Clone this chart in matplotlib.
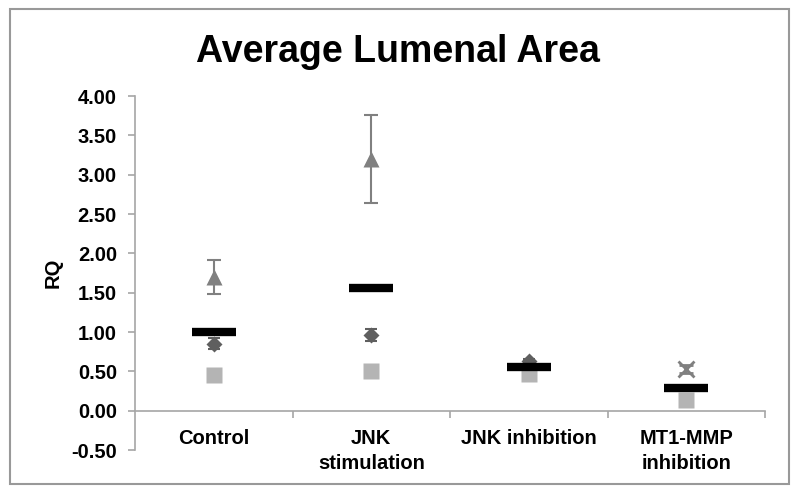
import matplotlib.pyplot as plt
import numpy as np
from matplotlib.patches import Rectangle

categories = ['Control', 'JNK\nstimulation', 'JNK inhibition', 'MT1-MMP\ninhibition']
means = [1.00, 1.56, 0.55, 0.29]
diamond = [0.85, 0.96, 0.63, np.nan]
diamond_err = [0.07, 0.08, 0.03, np.nan]
square = [0.45, 0.50, 0.46, 0.14]
triangle = [1.70, 3.20, np.nan, np.nan]
triangle_err = [0.22, 0.56, np.nan, np.nan]
cross = [np.nan, np.nan, np.nan, 0.53]
cross_err = [np.nan, np.nan, np.nan, 0.05]
yticks = [-0.5, 0, 0.5, 1.0, 1.5, 2.0, 2.5, 3.0, 3.5, 4.0]

plt.rcParams['font.family'] = 'Liberation Sans'
plt.rcParams['font.weight'] = 'bold'

axis_gray = '#a6a6a6'

fig = plt.figure(figsize=(8, 4.96), dpi=100)
ax = fig.add_axes([135 / 800, 1 - 450 / 496, 630 / 800, 354 / 496])
xs = np.arange(1, len(categories) + 1)

ax.errorbar(xs, triangle, yerr=triangle_err, fmt='^', color='#808080',
            ms=12, mec='none', ecolor='#808080', elinewidth=1.5,
            capsize=5, capthick=1.5, zorder=3)
ax.plot(xs, square, 's', color='#b4b4b4', ms=11, mec='none', zorder=3)
ax.errorbar(xs, diamond, yerr=diamond_err, fmt='D', color='#5f5f5f',
            ms=8, mec='none', ecolor='#5f5f5f', elinewidth=1.5,
            capsize=4, capthick=1.5, zorder=3)
ax.errorbar(xs, cross, yerr=cross_err, fmt='x', color='#808080',
            ms=11, mew=2, ecolor='#808080', elinewidth=1.5,
            capsize=5, capthick=1.5, zorder=3)
ax.plot(xs, means, '_', color='black', ms=32, mew=6, zorder=4)

ax.set_xlim(0.5, len(categories) + 0.5)
ax.set_ylim(-0.5, 4.0)
ax.set_yticks(yticks)
ax.set_yticklabels(['%.2f' % v for v in yticks])

ax.spines['top'].set_visible(False)
ax.spines['right'].set_visible(False)
ax.spines['bottom'].set_position(('data', 0))
for s in ['left', 'bottom']:
    ax.spines[s].set_color(axis_gray)
    ax.spines[s].set_linewidth(1.2)

ax.set_xticks(xs + 0.5)
ax.set_xticklabels([])
ax.set_xticks(xs, minor=True)
ax.set_xticklabels(categories, minor=True, fontsize=14.5, fontweight='bold',
                   linespacing=1.4, va='top')
ax.tick_params(axis='x', which='major', direction='out', length=5,
               color=axis_gray, width=1.2)
ax.tick_params(axis='x', which='minor', length=0, pad=13)
ax.tick_params(axis='y', direction='out', length=5, color=axis_gray,
               width=1.2, labelsize=14.5, pad=8)

ax.set_ylabel('RQ', fontsize=14.5, fontweight='bold', labelpad=6)
fig.text(398 / 800, 1 - 52 / 496, 'Average Lumenal Area', ha='center',
         va='center', fontsize=27, fontweight='bold')

fig.patches.append(Rectangle((10 / 800, 1 - 484 / 496), 779 / 800, 475 / 496,
                             transform=fig.transFigure, fill=False,
                             edgecolor='#999999', linewidth=1.5))

plt.savefig('out.png', dpi=100)
